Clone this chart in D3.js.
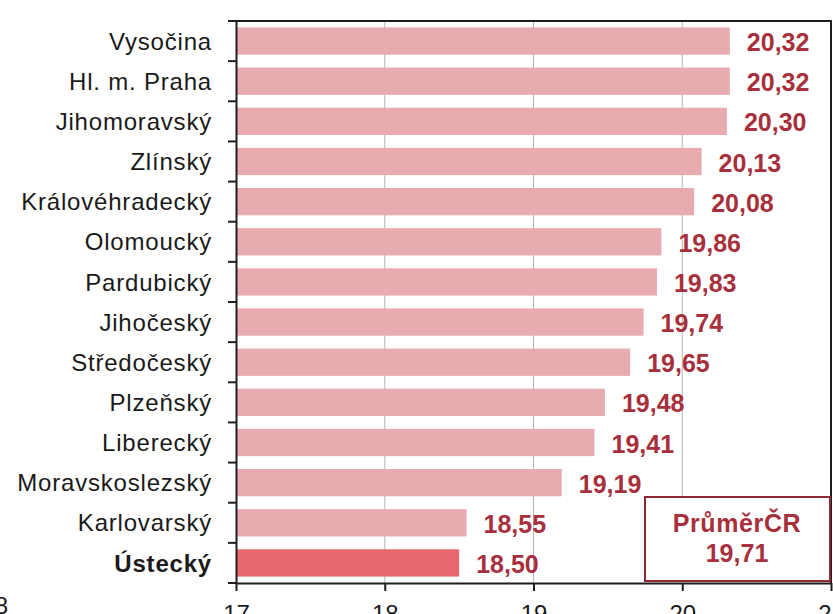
<!DOCTYPE html>
<html>
<head>
<meta charset="utf-8">
<script src="https://cdn.jsdelivr.net/npm/d3@7"></script>
<style>
    body { margin: 0; background: #fff; }
    svg { display: block; font-family: "Liberation Sans", Arial, sans-serif; }
</style>
</head>
<body>
<div id="chart"></div>
<script>
const regions = ["Vysočina", "Hl. m. Praha", "Jihomoravský", "Zlínský", "Královéhradecký", "Olomoucký",
    "Pardubický", "Jihočeský", "Středočeský", "Plzeňský", "Liberecký", "Moravskoslezský", "Karlovarský", "Ústecký"];
const values = [20.32, 20.32, 20.30, 20.13, 20.08, 19.86, 19.83, 19.74, 19.65, 19.48, 19.41, 19.19, 18.55, 18.50];
const highlight = "Ústecký";
const averageLabel = "PrůměrČR";
const averageValue = 19.71;
const xTicks = [17, 18, 19, 20, 21];

const width = 833, height = 614;
const plotLeft = 236, plotRight = 831, plotTop = 21, plotBottom = 583;

const fmt = v => d3.format(".2f")(v).replace(".", ",");

const svg = d3.select("#chart").append("svg")
    .attr("width", width)
    .attr("height", height);

const x = d3.scaleLinear().domain([17, 21]).range([plotLeft, plotRight]);
const y = d3.scaleBand().domain(regions).range([plotTop, plotBottom])
    .paddingInner(0.32).paddingOuter(0.16);

// grid lines
svg.append("g")
    .selectAll("line")
    .data(xTicks.slice(1, -1))
    .join("line")
    .attr("x1", d => x(d)).attr("x2", d => x(d))
    .attr("y1", plotTop).attr("y2", plotBottom)
    .attr("stroke", "#b4b4b4")
    .attr("stroke-width", 1);

// frame (top + right)
svg.append("path")
    .attr("d", `M${plotLeft},${plotTop}H${plotRight}V${plotBottom}`)
    .attr("fill", "none")
    .attr("stroke", "#1e1e1e")
    .attr("stroke-width", 2);

// bars
svg.append("g")
    .selectAll("rect")
    .data(regions)
    .join("rect")
    .attr("x", x(17))
    .attr("y", d => y(d))
    .attr("height", y.bandwidth())
    .attr("width", (d, i) => x(values[i]) - x(17))
    .attr("fill", d => d === highlight ? "#e8686f" : "#e8abb0");

// value labels
svg.append("g")
    .selectAll("text")
    .data(regions)
    .join("text")
    .attr("x", (d, i) => x(values[i]) + 17)
    .attr("y", d => y(d) + y.bandwidth() / 2 + 10)
    .attr("font-size", 25)
    .attr("font-weight", "bold")
    .attr("fill", "#a8303c")
    .text((d, i) => fmt(values[i]));

// y axis
const yAxis = svg.append("g")
    .attr("transform", `translate(${plotLeft},0)`)
    .call(d3.axisLeft(y).tickSize(0).tickPadding(24));
yAxis.select(".domain").attr("stroke", "#1e1e1e").attr("stroke-width", 2);
yAxis.selectAll("text")
    .attr("font-size", 24)
    .attr("letter-spacing", "0.8px")
    .attr("fill", "#1a1a1a")
    .attr("dy", "0.36em")
    .attr("font-weight", d => d === highlight ? "bold" : "normal")
    .attr("font-family", "'Liberation Sans', Arial, sans-serif");

// category boundary ticks
const step = y.step();
const bounds = regions.map(d => y(d) - step * y.paddingInner() / 2);
bounds.push(y(regions[regions.length - 1]) + y.bandwidth() + step * y.paddingInner() / 2);
svg.append("g")
    .selectAll("line")
    .data(bounds)
    .join("line")
    .attr("x1", plotLeft - 8).attr("x2", plotLeft)
    .attr("y1", d => d).attr("y2", d => d)
    .attr("stroke", "#1e1e1e")
    .attr("stroke-width", 2);

// x axis (labels are cut by the bottom edge, as in the source image)
const xAxis = svg.append("g")
    .attr("transform", `translate(0,${plotBottom})`)
    .call(d3.axisBottom(x).tickValues(xTicks).tickSize(8).tickSizeOuter(0).tickPadding(14).tickFormat(d3.format("d")));
xAxis.select(".domain").attr("stroke", "#1e1e1e").attr("stroke-width", 2);
xAxis.selectAll("line").attr("stroke", "#1e1e1e").attr("stroke-width", 2);
xAxis.selectAll("text")
    .attr("font-size", 24)
    .attr("fill", "#1a1a1a")
    .attr("font-family", "'Liberation Sans', Arial, sans-serif");

// fragment of neighbouring label at bottom left
svg.append("text")
    .attr("x", 8).attr("y", 614)
    .attr("text-anchor", "end")
    .attr("font-size", 24)
    .attr("fill", "#1a1a1a")
    .text("18");

// average box
const box = svg.append("g");
box.append("rect")
    .attr("x", 645).attr("y", 497)
    .attr("width", 185).attr("height", 84)
    .attr("fill", "#fff")
    .attr("stroke", "#8e2a33")
    .attr("stroke-width", 2);
box.append("text")
    .attr("x", 737).attr("y", 532)
    .attr("text-anchor", "middle")
    .attr("font-size", 25)
    .attr("font-weight", "bold")
    .attr("letter-spacing", "0.6px")
    .attr("fill", "#a8303c")
    .text(averageLabel);
box.append("text")
    .attr("x", 737).attr("y", 562)
    .attr("text-anchor", "middle")
    .attr("font-size", 25)
    .attr("font-weight", "bold")
    .attr("fill", "#a8303c")
    .text(fmt(averageValue));
</script>
</body>
</html>
